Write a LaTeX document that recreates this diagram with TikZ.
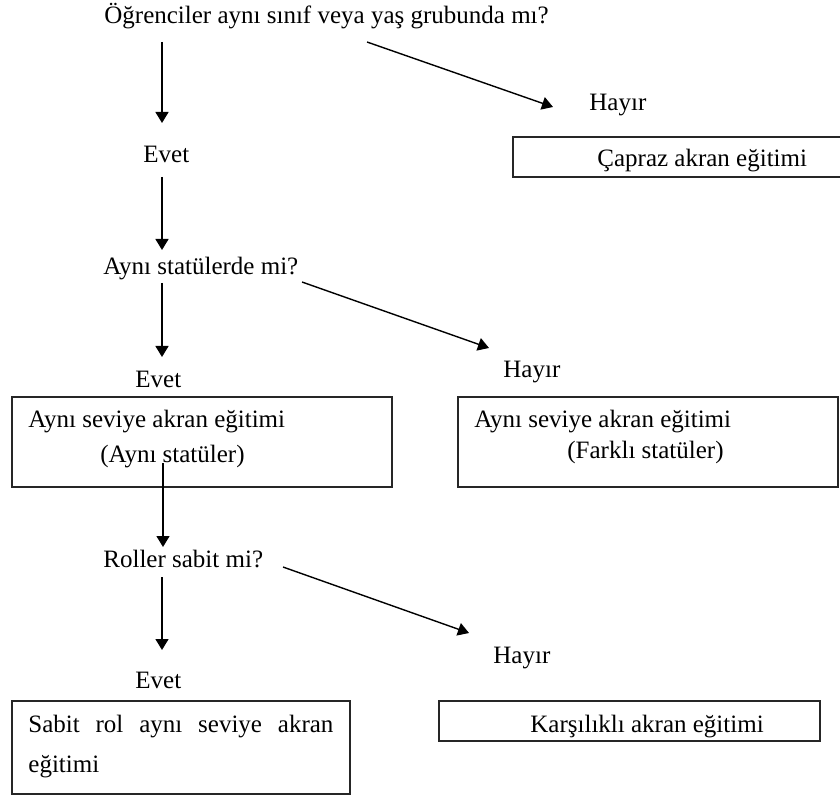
\documentclass[tikz,border=0pt]{standalone}
\usepackage{fontspec}
\setmainfont{Liberation Serif}
\usetikzlibrary{arrows.meta}

\tikzset{
  lbl/.style={anchor=base west, inner sep=0pt, font=\fontsize{12.5}{20}\selectfont},
  arr/.style={line width=0.7pt, -{Triangle[width=6.5pt, length=5.5pt]}},
  boxline/.style={line width=0.9pt, black!85}
}

\begin{document}
\begin{tikzpicture}[x=0.5pt, y=-0.5pt] % one unit = one pixel of the reference

        % Frame
        \useasboundingbox (0,0) rectangle (840,796);
        \clip (0,0) rectangle (840,796);

        % Questions and answers
        \node[lbl] (q1) at (104,24) {Öğrenciler aynı sınıf veya yaş grubunda mı?};
        \node[lbl] (no1) at (589,111) {Hayır};
        \node[lbl] (yes1) at (143,163) {Evet};
        \node[lbl] (q2) at (103,275) {Aynı statülerde mi?};
        \node[lbl] (no2) at (503,378) {Hayır};
        \node[lbl] (yes2) at (135,387) {Evet};
        \node[lbl] (q3) at (103,567) {Roller sabit mi?};
        \node[lbl] (no3) at (493,663) {Hayır};
        \node[lbl] (yes3) at (135,688) {Evet};

        % Boxes
        \draw[boxline] (513,137) rectangle (860,177);
        \draw[boxline] (12,397) rectangle (392,487);
        \draw[boxline] (458,397) rectangle (838,487);
        \draw[boxline] (12,701) rectangle (350,794);
        \draw[boxline] (439,701) rectangle (820,741);

        % Box texts
        \node[lbl] (cross) at (597,167) {Çapraz akran eğitimi};
        \node[lbl] (same1) at (28,428) {Aynı seviye akran eğitimi};
        \node[lbl] (same1b) at (100,462) {(Aynı statüler)};
        \node[lbl] (same2) at (474,427) {Aynı seviye akran eğitimi};
        \node[lbl] (same2b) at (567,458) {(Farklı statüler)};
        \node[lbl, align=left] (fixed) at (28,772)
            {\makebox[152.5pt][s]{Sabit rol aynı seviye akran}\\eğitimi};
        \node[lbl] (recip) at (530,732) {Karşılıklı akran eğitimi};

        % Connector ends
        \coordinate (q1-s) at (162,42);
        \coordinate (q1-e) at (367,42);
        \coordinate (yes1-n) at (162,123);
        \coordinate (no1-w) at (553,107);
        \coordinate (yes1-s) at (162,177);
        \coordinate (q2-n) at (162,250);
        \coordinate (q2-s) at (162,283);
        \coordinate (q2-e) at (302,282);
        \coordinate (yes2-n) at (162,357);
        \coordinate (no2-w) at (489,348);
        \coordinate (same1-s) at (163,463);
        \coordinate (q3-n) at (163,547);
        \coordinate (q3-s) at (162,577);
        \coordinate (q3-e) at (283,567);
        \coordinate (yes3-n) at (162,650);
        \coordinate (no3-w) at (469,633);

        % Arrows
        \draw[arr] (q1-s) -- (yes1-n);
        \draw[arr] (q1-e) -- (no1-w);
        \draw[arr] (yes1-s) -- (q2-n);
        \draw[arr] (q2-s) -- (yes2-n);
        \draw[arr] (q2-e) -- (no2-w);
        \draw[arr] (same1-s) -- (q3-n);
        \draw[arr] (q3-s) -- (yes3-n);
        \draw[arr] (q3-e) -- (no3-w);

    \end{tikzpicture}
\end{document}
